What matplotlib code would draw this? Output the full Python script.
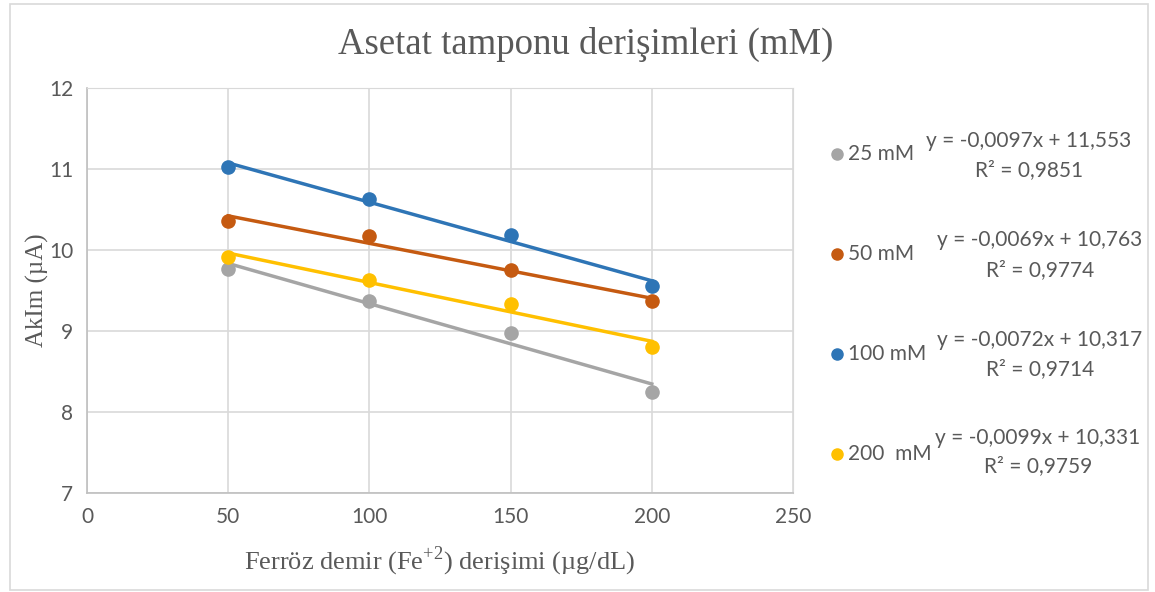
import numpy as np
import matplotlib.pyplot as plt
from matplotlib.patches import Rectangle

plt.rcParams['mathtext.fontset'] = 'custom'
plt.rcParams['mathtext.rm'] = 'Liberation Serif'

concentrations = [50, 100, 150, 200]
series_labels = ['25 mM', '50 mM', '100 mM', '200  mM']
series_colors = ['#a5a5a5', '#c55a11', '#2e75b6', '#ffc000']
values_25 = [9.77, 9.37, 8.97, 8.25]
values_50 = [10.36, 10.17, 9.75, 9.37]
values_100 = [11.02, 10.63, 10.19, 9.55]
values_200 = [9.91, 9.63, 9.33, 8.80]
equations = ['y = -0,0097x + 11,553', 'y = -0,0069x + 10,763',
             'y = -0,0072x + 10,317', 'y = -0,0099x + 10,331']
r_squared = ['R² = 0,9851', 'R² = 0,9774', 'R² = 0,9714', 'R² = 0,9759']

text_gray = '#595959'
sans = ['Lato', 'DejaVu Sans']
serif = ['Liberation Serif', 'DejaVu Serif']

fig = plt.figure(figsize=(11.55, 5.92), dpi=100)
fig.patches.append(Rectangle((0.009, 0.004), 0.985, 0.99, transform=fig.transFigure,
                             fill=False, edgecolor='#d9d9d9', linewidth=1.2))
ax = fig.add_axes([0.0753, 0.1672, 0.6113, 0.6842])

all_values = [values_25, values_50, values_100, values_200]
x = np.array(concentrations)
for vals, color in zip(all_values, series_colors):
    slope, intercept = np.polyfit(x, vals, 1)
    ax.plot(x, slope * x + intercept, color=color, linewidth=2.5, zorder=3)
for vals, color in zip(all_values, series_colors):
    ax.scatter(x, vals, s=90, color=color, edgecolors=color, linewidths=1, zorder=4)

ax.set_xlim(0, 250)
ax.set_ylim(7, 12)
ax.set_xticks(range(0, 251, 50))
ax.set_yticks(range(7, 13))
ax.grid(color='#d9d9d9', linewidth=1.2)
ax.set_axisbelow(True)
for side in ['top', 'right']:
    ax.spines[side].set_color('#d9d9d9')
for side in ['left', 'bottom']:
    ax.spines[side].set_color('#bfbfbf')
    ax.spines[side].set_linewidth(1.2)
ax.tick_params(length=0, colors=text_gray, labelsize=15, pad=10)
for lbl in ax.get_xticklabels() + ax.get_yticklabels():
    lbl.set_family(sans)

ax.set_xlabel('Ferröz demir (Fe$^{+2}$) derişimi (µg/dL)', family=serif,
              fontsize=19, color=text_gray, labelpad=13)
ax.set_ylabel('AkIm (µA)', family=serif, fontsize=18, color=text_gray, labelpad=0)
fig.text(0.507, 0.925, 'Asetat tamponu derişimleri (mM)', family=serif,
         fontsize=26.5, color=text_gray, ha='center', va='center')

marker_y = [154, 254, 354, 454]
eq_y = [141, 240, 340, 438]
r2_y = [170, 270, 369, 466]
eq_x = [1029, 1040, 1040, 1038]
W, H = 1155, 592
for i in range(4):
    fig.add_artist(plt.Line2D([837 / W], [1 - marker_y[i] / H], marker='o',
                              markersize=8, color=series_colors[i], linestyle='none'))
    fig.text(848 / W, 1 - marker_y[i] / H, series_labels[i], family=sans,
             fontsize=15, color=text_gray, ha='left', va='center')
    fig.text(eq_x[i] / W, 1 - eq_y[i] / H, equations[i], family=sans,
             fontsize=15, color=text_gray, ha='center', va='center')
    fig.text(eq_x[i] / W, 1 - r2_y[i] / H, r_squared[i], family=sans,
             fontsize=15, color=text_gray, ha='center', va='center')

fig.savefig('out.png', dpi=100)
